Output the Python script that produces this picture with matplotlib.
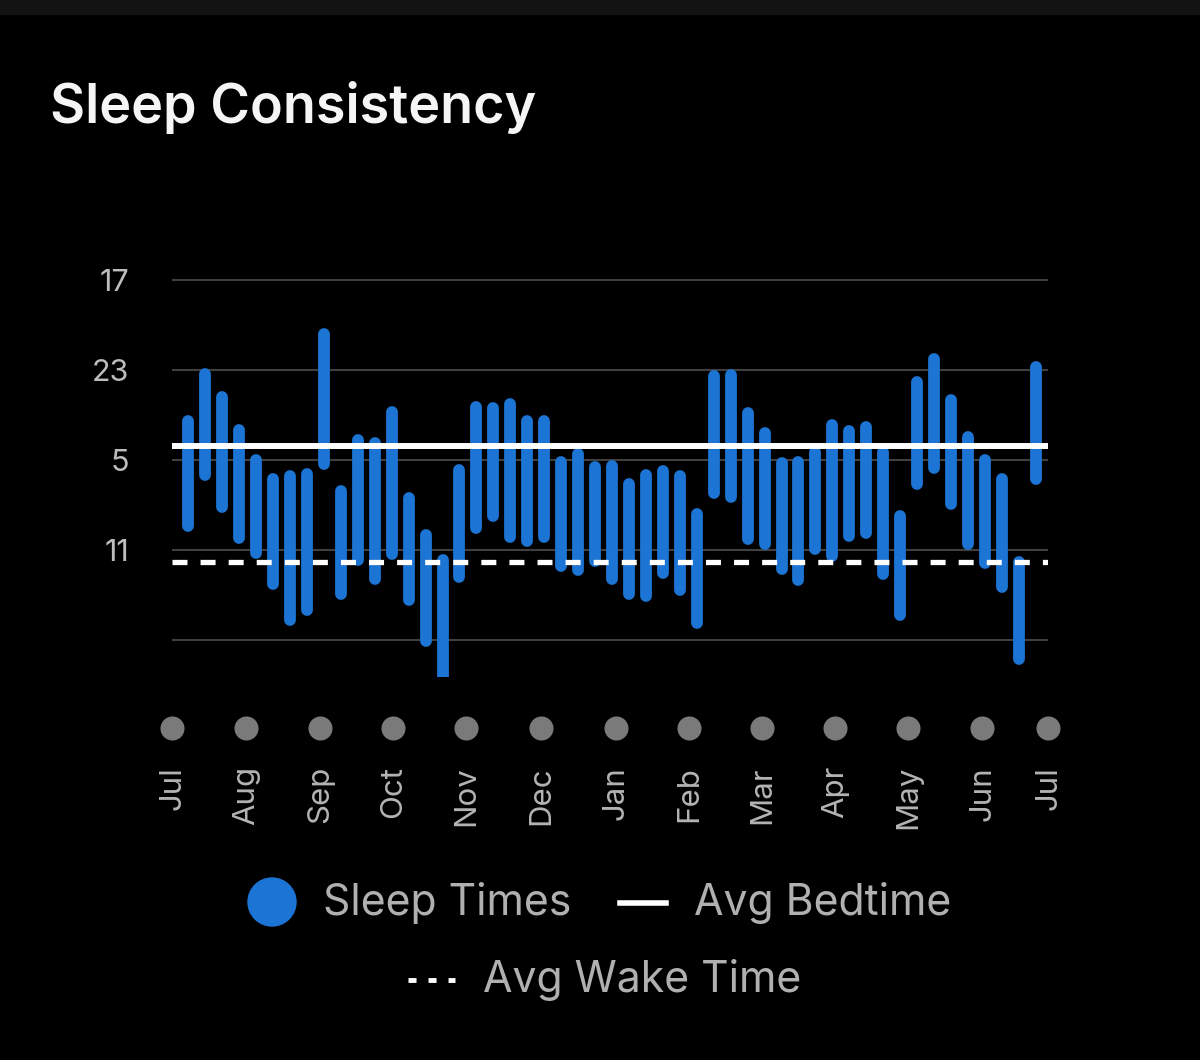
import numpy as np
import matplotlib
matplotlib.use("Agg")
import matplotlib.pyplot as plt
from matplotlib.patches import Rectangle, Ellipse

plt.rcParams['font.family'] = ['Inter', 'DejaVu Sans']

# data: weekly bedtime / wake time in hours (after 24 = next day)
bedtime = [26.37, 23.24, 24.82, 26.97, 28.97, 30.26, 30.08, 29.92, 20.59, 31.10,
           27.70, 27.86, 25.82, 31.55, 33.99, 35.66, 29.70, 25.48, 25.55, 25.26,
           26.37, 26.37, 29.15, 28.57, 29.48, 29.42, 30.59, 29.99, 29.75, 30.10,
           32.59, 23.37, 23.32, 25.88, 27.22, 29.19, 29.15, 28.50, 26.70, 27.08,
           26.77, 28.50, 32.75, 23.77, 22.26, 24.99, 27.44, 28.97, 30.30, 35.82, 22.82]
wake = [33.41, 30.01, 32.12, 34.18, 35.23, 37.30, 39.68, 39.01, 29.30, 37.96,
        35.70, 36.96, 35.30, 38.34, 41.08, 44.00, 36.81, 33.52, 32.74, 34.14,
        34.41, 34.14, 36.08, 36.36, 35.74, 36.96, 37.96, 38.08, 36.52, 37.70,
        39.85, 31.18, 31.48, 34.30, 34.58, 36.30, 37.01, 34.96, 35.41, 34.08,
        33.85, 36.63, 39.36, 30.63, 29.52, 31.96, 34.63, 35.85, 37.48, 42.30, 30.30]
avg_bed = 28.07
avg_wake = 35.78

months = ['Jul', 'Aug', 'Sep', 'Oct', 'Nov', 'Dec', 'Jan', 'Feb', 'Mar', 'Apr', 'May', 'Jun', 'Jul']
month_pos = [-0.96, 3.40, 7.77, 12.08, 16.38, 20.81, 25.23, 29.54, 33.85, 38.15, 42.46, 46.83, 50.72]
ytick_pos = [17, 23, 29, 35, 41]
ytick_lab = ['17', '23', '5', '11', '']

weeks = np.arange(len(bedtime))
blue = '#1c74d4'
W, H = 1200, 1060

fig = plt.figure(figsize=(12, 10.6), dpi=100, facecolor='black')
fig.patches.append(Rectangle((0, 1 - 14 / H), 1, 14 / H, transform=fig.transFigure,
                             color='#131313', zorder=0))

ax = fig.add_axes([172 / W, 1 - 677 / H, 876 / W, 412 / H])
ax.set_facecolor('black')
ax.set_xlim(-0.96, 50.72)
ax.set_ylim(43.47, 16.0)

for y in ytick_pos:
    ax.axhline(y, color='#404040', lw=1.5, zorder=1)

ax.vlines(weeks, bedtime, wake, color=blue, lw=8.5, capstyle='round', zorder=2)
ax.axhline(avg_bed, color='white', lw=4.3, zorder=3)
ax.axhline(avg_wake, color='white', lw=3.8, dashes=(2.84, 2.48), zorder=3)

ax.set_yticks(ytick_pos, ytick_lab)
ax.set_xticks(month_pos, months, rotation=90)
ax.tick_params(axis='y', length=0, pad=31, labelsize=22, labelcolor='#bdbdbd')
ax.tick_params(axis='x', length=0, pad=64, labelsize=22.5, labelcolor='#b4b4b4')
for s in ax.spines.values():
    s.set_visible(False)

# month dots under the plot
ax.scatter(month_pos, [-0.124] * len(month_pos), s=300, color='#7a7a7a',
           transform=ax.get_xaxis_transform(), clip_on=False, linewidths=0)

# title
fig.text(50 / W, 1 - 123 / H, 'Sleep Consistency', color='#f5f5f5', fontsize=38.8,
         fontweight='semibold', va='baseline', ha='left')

# legend drawn by hand in pixel coords
lg = fig.add_axes([0, 0, 1, 1])
lg.set_xlim(0, W)
lg.set_ylim(H, 0)
lg.axis('off')
lg.add_patch(Ellipse((272, 902), 48, 48, color=blue))
lg.text(323, 903, 'Sleep Times', color='#b0b0b0', fontsize=30.8, va='center', ha='left')
lg.plot([620, 666], [903, 903], color='white', lw=4)
lg.text(694, 903, 'Avg Bedtime', color='#b0b0b0', fontsize=30.8, va='center', ha='left')
lg.plot([408, 455], [980, 980], color='white', lw=3.5, dashes=(1.65, 2.47))
lg.text(483, 980, 'Avg Wake Time', color='#b0b0b0', fontsize=30.8, va='center', ha='left')

fig.savefig('out.png', dpi=100, facecolor='black')
